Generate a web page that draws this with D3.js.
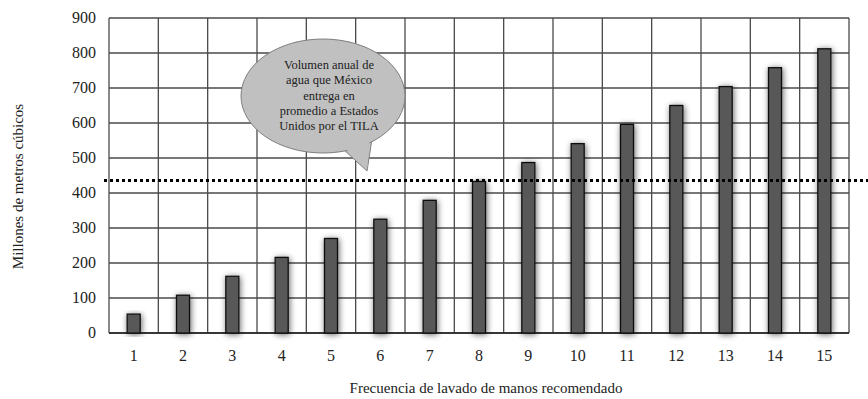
<!DOCTYPE html>
<html>
<head>
<meta charset="utf-8">
<script src="https://cdn.jsdelivr.net/npm/d3@7"></script>
<style>
  body { margin: 0; background: #fff; }
  svg { display: block; font-family: "Liberation Serif", "DejaVu Serif", serif; }
</style>
</head>
<body>
<svg id="chart" width="868" height="399"></svg>
<script>
const categories = ["1", "2", "3", "4", "5", "6", "7", "8", "9", "10", "11", "12", "13", "14", "15"];
const volumes = [54, 108, 162, 216, 270, 325, 379, 433, 487, 541, 596, 650, 704, 758, 812];
const yTicks = [0, 100, 200, 300, 400, 500, 600, 700, 800, 900];
const tilaAverage = 436;
const bubbleLines = ["Volumen anual de", "agua que México", "entrega en", "promedio a Estados", "Unidos por el TILA"];

const margin = { top: 18, right: 19, bottom: 66, left: 109 };
const width = 868, height = 399;

const svg = d3.select("#chart");

const defs = svg.append("defs");
const glow = defs.append("filter").attr("id", "glow")
    .attr("x", "-100%").attr("y", "-20%").attr("width", "300%").attr("height", "140%");
glow.append("feGaussianBlur").attr("in", "SourceAlpha").attr("stdDeviation", 3).attr("result", "blur");
glow.append("feOffset").attr("in", "blur").attr("dx", 0.5).attr("dy", 0.5).attr("result", "off");
glow.append("feComponentTransfer").attr("in", "off").attr("result", "soft")
    .append("feFuncA").attr("type", "linear").attr("slope", 0.6);
const merge = glow.append("feMerge");
merge.append("feMergeNode").attr("in", "soft");
merge.append("feMergeNode").attr("in", "SourceGraphic");

const x = d3.scaleBand()
    .domain(categories)
    .range([margin.left, width - margin.right])
    .paddingInner(0).paddingOuter(0);

const y = d3.scaleLinear()
    .domain([0, 900])
    .range([height - margin.bottom, margin.top]);

// horizontal grid
svg.append("g")
    .selectAll("line")
    .data(yTicks)
    .enter().append("line")
    .attr("x1", margin.left).attr("x2", width - margin.right)
    .attr("y1", d => y(d)).attr("y2", d => y(d))
    .attr("stroke", "#4a4a4a").attr("stroke-width", 1.3);

// vertical grid at category boundaries
const bounds = categories.map(c => x(c)).concat([x(categories[categories.length - 1]) + x.bandwidth()]);
svg.append("g")
    .selectAll("line")
    .data(bounds)
    .enter().append("line")
    .attr("x1", d => d).attr("x2", d => d)
    .attr("y1", y(900)).attr("y2", y(0))
    .attr("stroke", "#4a4a4a").attr("stroke-width", 1.3);

// bottom axis line
svg.append("line")
    .attr("x1", margin.left).attr("x2", width - margin.right)
    .attr("y1", y(0)).attr("y2", y(0))
    .attr("stroke", "#222").attr("stroke-width", 1.5);

// bars
const barW = 13;
svg.append("g")
    .selectAll("rect")
    .data(volumes)
    .enter().append("rect")
    .attr("x", (d, i) => x(categories[i]) + x.bandwidth() / 2 - barW / 2)
    .attr("y", d => y(d))
    .attr("width", barW)
    .attr("height", d => y(0) - y(d))
    .attr("fill", "#595959")
    .attr("stroke", "#111")
    .attr("stroke-width", 1.3)
    .attr("filter", "url(#glow)");

// y tick labels
svg.append("g")
    .selectAll("text")
    .data(yTicks)
    .enter().append("text")
    .attr("x", 96)
    .attr("y", d => y(d) + 5)
    .attr("text-anchor", "end")
    .attr("font-size", 16)
    .attr("fill", "#222")
    .text(d => d);

// x tick labels
svg.append("g")
    .selectAll("text")
    .data(categories)
    .enter().append("text")
    .attr("x", d => x(d) + x.bandwidth() / 2)
    .attr("y", 361)
    .attr("text-anchor", "middle")
    .attr("font-size", 16)
    .attr("fill", "#222")
    .text(d => d);

// axis titles
svg.append("text")
    .attr("x", 486)
    .attr("y", 393)
    .attr("text-anchor", "middle")
    .attr("font-size", 15)
    .attr("fill", "#222")
    .text("Frecuencia de lavado de manos recomendado");

svg.append("text")
    .attr("transform", `translate(23, ${(y(0) + y(900)) / 2 + 11}) rotate(-90)`)
    .attr("text-anchor", "middle")
    .attr("font-size", 15)
    .attr("fill", "#222")
    .text("Millones de metros cúbicos");

// speech bubble
const cx = 323, cy = 96, rx = 82, ry = 57;
const bubble = svg.append("g");
bubble.append("path")
    .attr("d", `M${cx + 20},${cy + ry - 4} L${cx + 44},${cy + 75} L${cx + 49},${cy + ry - 14}`)
    .attr("fill", "#c0c0c0").attr("stroke", "#7f7f7f").attr("stroke-width", 1);
bubble.append("ellipse")
    .attr("cx", cx).attr("cy", cy).attr("rx", rx).attr("ry", ry)
    .attr("fill", "#c0c0c0").attr("stroke", "#7f7f7f").attr("stroke-width", 1);
bubble.append("path")
    .attr("d", `M${cx + 21},${cy + ry - 6} L${cx + 44},${cy + 73} L${cx + 47},${cy + ry - 16}`)
    .attr("fill", "#c0c0c0").attr("stroke", "none");
bubble.selectAll("text.bl")
    .data(bubbleLines)
    .enter().append("text")
    .attr("class", "bl")
    .attr("x", cx + 6)
    .attr("y", (d, i) => 69 + i * 15.3)
    .attr("text-anchor", "middle")
    .attr("font-size", 12.5)
    .attr("fill", "#222")
    .text(d => d);

// dotted TILA average line
svg.append("line")
    .attr("x1", 104).attr("x2", width)
    .attr("y1", y(tilaAverage)).attr("y2", y(tilaAverage))
    .attr("stroke", "#000").attr("stroke-width", 3)
    .attr("stroke-dasharray", "3,3");
</script>
</body>
</html>
